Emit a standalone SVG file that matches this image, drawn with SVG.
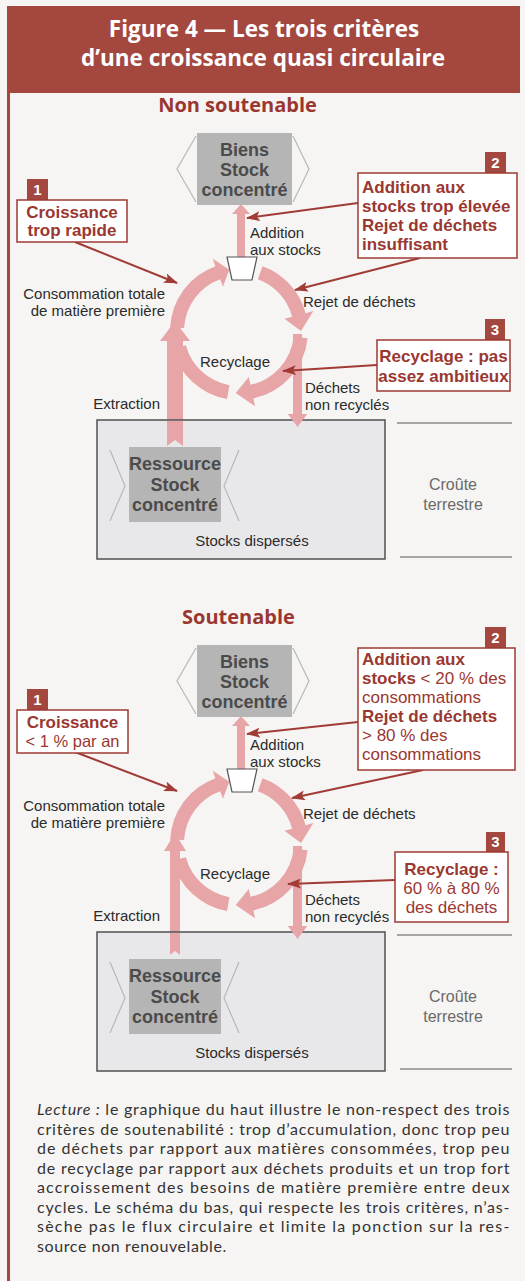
<svg xmlns="http://www.w3.org/2000/svg" width="525" height="1281" viewBox="0 0 525 1281">
<defs>
<style>
text{font-family:"Liberation Sans",Arial,sans-serif}
.hd{font-family:"Open Sans","Liberation Sans",sans-serif}
.lbl{font-size:15px;fill:#2b2b2b}
.gb{font-size:18px;font-weight:700;fill:#4b4b4b;text-anchor:middle}
.crit{font-size:17px;font-weight:700;fill:#9a3730}
.rg{font-weight:400}
.num{font-size:15px;font-weight:700;fill:#fff;text-anchor:middle}
.pink{fill:#e8a5a8}
.conn{stroke:#a13b35;stroke-width:2;fill:none;marker-end:url(#ah)}
.chev{fill:none;stroke:#b8b8b8;stroke-width:1.2}
.gbox{fill:#b5b5b5}
.cbox{fill:#fff;stroke:#9e3a33;stroke-width:1.5}
.nbox{fill:#a4473f}
.sect{font-size:20px;font-weight:700;fill:#9a3730;text-anchor:middle}
.crust{font-size:16px;fill:#6a6a6a;text-anchor:middle}
.rule{stroke:#8a8a8a;stroke-width:1.5}
.cap{font-family:Lato,"Open Sans",sans-serif;font-size:16px;fill:#333;letter-spacing:0.6px}
</style>
<marker id="ah" markerUnits="userSpaceOnUse" viewBox="0 0 14 10" refX="13" refY="5" markerWidth="14" markerHeight="10" orient="auto"><path d="M0,0 L14,5 L0,10 L3,5 z" fill="#a13b35"/></marker>
</defs>
<rect x="0" y="0" width="525" height="1281" fill="#f6f5f3"/>
<g id="frame">
<rect x="7" y="6" width="513" height="87" fill="#a4473f"/>
<line x1="8.5" y1="6" x2="8.5" y2="1281" stroke="#a4473f" stroke-width="3"/>
<text class="hd" x="264" y="37" font-size="22.5" font-weight="700" fill="#fff" text-anchor="middle">Figure 4 — Les trois critères</text>
<text class="hd" x="263" y="66" font-size="22.5" font-weight="700" fill="#fff" text-anchor="middle">d’une croissance quasi circulaire</text>
</g>

<g id="diagram-non-soutenable">
<text class="sect hd" x="237.5" y="112">Non soutenable</text>
<g id="connectors-top">
<path class="pink" d="M170.09,327.39 A69,69 0 0 1 215.40,266.16 L212.67,258.64 L229.30,269.76 L222.93,286.83 L220.19,279.32 A55,55 0 0 0 184.08,328.12 Z"/>
<path class="pink" d="M262.60,266.16 A69,69 0 0 1 305.65,313.14 L313.38,311.07 L301,331 L284.40,318.84 L292.13,316.76 A55,55 0 0 0 257.81,279.32 Z"/>
<path class="pink" d="M307.62,338.21 A69,69 0 0 1 253.35,398.49 L255.01,406.32 L235.75,392.92 L248.77,376.97 L250.44,384.80 A55,55 0 0 0 293.70,336.75 Z"/>
<path class="pink" d="M227.02,398.95 A69,69 0 0 1 172.35,348.86 L185.87,345.24 A55,55 0 0 0 229.45,385.16 Z"/>
<polygon class="pink" points="167,446 167,341 160,341 175,321 190,341 183,341 183,446 175,440"/>
<polygon class="pink" points="237,258 237,214 232,214 241,204 250,214 245,214 245,258"/>
<polygon class="pink" points="293,334 302,334 302,414 307,414 297.5,427 288,414 293,414"/>
<line class="conn" x1="75" y1="242" x2="177" y2="283"/>
<line class="conn" x1="358" y1="203" x2="247" y2="218"/>
<line class="conn" x1="420" y1="258" x2="295" y2="290"/>
<line class="conn" x1="377" y1="365" x2="283" y2="371"/>
</g>
<g id="biens-top">
<polyline class="chev" points="196,136 177,169 196,202"/>
<polyline class="chev" points="293,136 309,169 293,202"/>
<rect class="gbox" x="197" y="133" width="95" height="72"/>
<text class="gb" x="244.5" y="155.5">Biens<tspan x="244.5" dy="20.3">Stock</tspan><tspan x="244.5" dy="20.3">concentré</tspan></text>
</g>
<g id="node-cup-top"><polygon points="227,257 257,257 252,280 232,280" fill="#fff" stroke="#555" stroke-width="1.2"/></g>
<g id="labels-top">
<text class="lbl" x="250" y="238">Addition<tspan x="250" dy="17">aux stocks</tspan></text>
<text class="lbl" x="165" y="299" text-anchor="end">Consommation totale<tspan x="165" dy="17">de matière première</tspan></text>
<text class="lbl" x="303" y="307">Rejet de déchets</text>
<text class="lbl" x="235" y="367" text-anchor="middle">Recyclage</text>
<text class="lbl" x="305" y="392.5">Déchets<tspan x="305" dy="17">non recyclés</tspan></text>
<text class="lbl" x="160" y="409" text-anchor="end">Extraction</text>
</g>
<g id="crust-top">
<rect x="97" y="420" width="288" height="139" fill="#e8e8ea" stroke="#505050" stroke-width="1.5"/>
<polygon class="pink" points="167,421 183,421 183,446 175,440 167,446"/>
<polygon class="pink" points="293,419 302,419 302,414 307,414 297.5,427 288,414 293,414"/>
<polyline class="chev" points="110,450 125,486 110,521"/>
<polyline class="chev" points="239,450 224,486 239,521"/>
<rect class="gbox" x="129" y="447" width="92" height="75"/>
<text class="gb" x="175" y="470">Ressource<tspan x="175" dy="20.5">Stock</tspan><tspan x="175" dy="20.5">concentré</tspan></text>
<text class="lbl" x="252" y="546" text-anchor="middle" font-size="16">Stocks dispersés</text>
<line class="rule" x1="397" y1="423" x2="512" y2="423"/>
<line class="rule" x1="400" y1="557" x2="512" y2="557"/>
<text class="crust" x="453" y="490">Croûte<tspan x="453" dy="20">terrestre</tspan></text>
</g>
<g id="crit1-top">
<rect class="nbox" x="27" y="179" width="21" height="21"/>
<text class="num" x="37.5" y="195">1</text>
<rect class="cbox" x="17" y="200" width="110" height="42"/>
<text class="crit" x="72" y="218" text-anchor="middle" font-size="15.5">Croissance<tspan x="72" dy="18">trop rapide</tspan></text>
</g>
<g id="crit2-top">
<rect class="nbox" x="485" y="152" width="21" height="21"/>
<text class="num" x="495.5" y="168">2</text>
<rect class="cbox" x="358" y="173" width="159" height="85"/>
<text class="crit" x="362" y="193">Addition aux<tspan x="362" dy="19">stocks trop élevée</tspan><tspan x="362" dy="19">Rejet de déchets</tspan><tspan x="362" dy="19">insuffisant</tspan></text>
</g>
<g id="crit3-top">
<rect class="nbox" x="485" y="319" width="20" height="21"/>
<text class="num" x="495" y="335">3</text>
<rect class="cbox" x="377" y="340" width="133" height="51"/>
<text class="crit" x="443.5" y="362" text-anchor="middle" font-size="16">Recyclage : pas<tspan x="443.5" dy="20">assez ambitieux</tspan></text>
</g>
</g>

<g id="diagram-soutenable" transform="translate(0,512)">
<text class="sect hd" x="238.5" y="112">Soutenable</text>
<g id="connectors-bottom">
<path class="pink" d="M170.09,327.39 A69,69 0 0 1 215.40,266.16 L212.67,258.64 L229.30,269.76 L222.93,286.83 L220.19,279.32 A55,55 0 0 0 184.08,328.12 Z"/>
<path class="pink" d="M262.60,266.16 A69,69 0 0 1 305.65,313.14 L313.38,311.07 L301,331 L284.40,318.84 L292.13,316.76 A55,55 0 0 0 257.81,279.32 Z"/>
<path class="pink" d="M307.62,338.21 A69,69 0 0 1 253.35,398.49 L255.01,406.32 L235.75,392.92 L248.77,376.97 L250.44,384.80 A55,55 0 0 0 293.70,336.75 Z"/>
<path class="pink" d="M227.02,398.95 A69,69 0 0 1 172.35,348.86 L185.87,345.24 A55,55 0 0 0 229.45,385.16 Z"/>
<polygon class="pink" points="170,443 170,339 164,339 175,321 186,339 180,339 180,443 175,439"/>
<polygon class="pink" points="237,258 237,214 232,214 241,204 250,214 245,214 245,258"/>
<polygon class="pink" points="293,334 302,334 302,414 307,414 297.5,427 288,414 293,414"/>
<line class="conn" x1="75" y1="240" x2="177" y2="279"/>
<line class="conn" x1="358" y1="210" x2="247" y2="222"/>
<line class="conn" x1="423" y1="258" x2="292" y2="286"/>
<line class="conn" x1="395" y1="368" x2="288" y2="372"/>
</g>
<g id="biens-bottom">
<polyline class="chev" points="196,136 177,169 196,202"/>
<polyline class="chev" points="293,136 309,169 293,202"/>
<rect class="gbox" x="197" y="133" width="95" height="72"/>
<text class="gb" x="244.5" y="155.5">Biens<tspan x="244.5" dy="20.3">Stock</tspan><tspan x="244.5" dy="20.3">concentré</tspan></text>
</g>
<g id="node-cup-bottom"><polygon points="227,257 257,257 252,280 232,280" fill="#fff" stroke="#555" stroke-width="1.2"/></g>
<g id="labels-bottom">
<text class="lbl" x="250" y="238">Addition<tspan x="250" dy="17">aux stocks</tspan></text>
<text class="lbl" x="165" y="299" text-anchor="end">Consommation totale<tspan x="165" dy="17">de matière première</tspan></text>
<text class="lbl" x="303" y="307">Rejet de déchets</text>
<text class="lbl" x="235" y="367" text-anchor="middle">Recyclage</text>
<text class="lbl" x="305" y="392.5">Déchets<tspan x="305" dy="17">non recyclés</tspan></text>
<text class="lbl" x="160" y="409" text-anchor="end">Extraction</text>
</g>
<g id="crust-bottom">
<rect x="97" y="420" width="288" height="139" fill="#e8e8ea" stroke="#505050" stroke-width="1.5"/>
<polygon class="pink" points="170,421 180,421 180,443 175,439 170,443"/>
<polygon class="pink" points="293,419 302,419 302,414 307,414 297.5,427 288,414 293,414"/>
<polyline class="chev" points="110,450 125,486 110,521"/>
<polyline class="chev" points="239,450 224,486 239,521"/>
<rect class="gbox" x="129" y="447" width="92" height="75"/>
<text class="gb" x="175" y="470">Ressource<tspan x="175" dy="20.5">Stock</tspan><tspan x="175" dy="20.5">concentré</tspan></text>
<text class="lbl" x="252" y="546" text-anchor="middle" font-size="16">Stocks dispersés</text>
<line class="rule" x1="397" y1="423" x2="512" y2="423"/>
<line class="rule" x1="400" y1="557" x2="512" y2="557"/>
<text class="crust" x="453" y="490">Croûte<tspan x="453" dy="20">terrestre</tspan></text>
</g>
<g id="crit1-bottom">
<rect class="nbox" x="27" y="177" width="21" height="21"/>
<text class="num" x="37.5" y="193">1</text>
<rect class="cbox" x="17" y="198" width="111" height="43"/>
<text class="crit" x="72.5" y="216" text-anchor="middle" font-size="15.5">Croissance<tspan class="rg" x="72.5" dy="18.6" font-size="16.5">&lt; 1 % par an</tspan></text>
</g>
<g id="crit2-bottom">
<rect class="nbox" x="485" y="115" width="21" height="21"/>
<text class="num" x="495.5" y="131">2</text>
<rect class="cbox" x="358" y="136" width="157" height="122"/>
<text class="crit" x="362" y="153">Addition aux<tspan x="362" dy="19">stocks </tspan><tspan class="rg">&lt; 20 % des</tspan><tspan class="rg" x="362" dy="19">consommations</tspan><tspan x="362" dy="19">Rejet de déchets</tspan><tspan class="rg" x="362" dy="19">&gt; 80 % des</tspan><tspan class="rg" x="362" dy="19">consommations</tspan></text>
</g>
<g id="crit3-bottom">
<rect class="nbox" x="486" y="320" width="19" height="20"/>
<text class="num" x="495.5" y="335">3</text>
<rect class="cbox" x="395" y="340" width="113" height="70"/>
<text class="crit" x="451.5" y="363" text-anchor="middle">Recyclage :<tspan class="rg" x="451.5" dy="19">60 % à 80 %</tspan><tspan class="rg" x="451.5" dy="19">des déchets</tspan></text>
</g>
</g>

<g id="caption">
<text class="cap" x="37" y="1115" textLength="473" lengthAdjust="spacing"><tspan font-style="italic">Lecture :</tspan> le graphique du haut illustre le non-respect des trois</text>
<text class="cap" x="37" y="1134.5" textLength="473" lengthAdjust="spacing">critères de soutenabilité : trop d’accumulation, donc trop peu</text>
<text class="cap" x="37" y="1154" textLength="473" lengthAdjust="spacing">de déchets par rapport aux matières consommées, trop peu</text>
<text class="cap" x="37" y="1173.5" textLength="473" lengthAdjust="spacing">de recyclage par rapport aux déchets produits et un trop fort</text>
<text class="cap" x="37" y="1193" textLength="473" lengthAdjust="spacing">accroissement des besoins de matière première entre deux</text>
<text class="cap" x="37" y="1212.5" textLength="473" lengthAdjust="spacing">cycles. Le schéma du bas, qui respecte les trois critères, n’as-</text>
<text class="cap" x="37" y="1232" textLength="473" lengthAdjust="spacing">sèche pas le flux circulaire et limite la ponction sur la res-</text>
<text class="cap" x="37" y="1251.5">source non renouvelable.</text>
</g>
</svg>
